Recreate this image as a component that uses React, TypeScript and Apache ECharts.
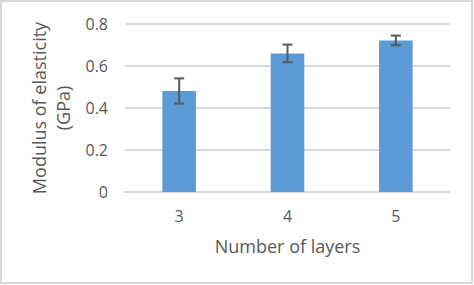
import React, { useEffect, useRef } from "react";
import * as echarts from "echarts";

const categories = ["3", "4", "5"];
const values = [0.481, 0.66, 0.722];
const errors = [0.06, 0.042, 0.023];
const yTicks = [0, 0.2, 0.4, 0.6, 0.8];

export default function App() {
  const ref = useRef<HTMLDivElement>(null);
  useEffect(() => {
    const chart = echarts.init(ref.current!, null, { renderer: "svg" });
    const font = "'Open Sans', sans-serif";
    chart.setOption({
      animation: false,
      backgroundColor: "#ffffff",
      grid: { left: 125, right: 24, top: 24, bottom: 93 },
      xAxis: {
        type: "category",
        data: categories,
        name: "Number of layers",
        nameLocation: "middle",
        nameGap: 45,
        nameTextStyle: { color: "#595959", fontSize: 18, fontFamily: font },
        axisLine: { lineStyle: { color: "#d9d9d9", width: 2 } },
        axisTick: { show: false },
        axisLabel: { color: "#595959", fontSize: 16, fontFamily: font, margin: 16 },
      },
      yAxis: {
        type: "value",
        min: 0,
        max: 0.8,
        interval: 0.2,
        name: "Modulus of elasticity\n(GPa)",
        nameLocation: "middle",
        nameRotate: 90,
        nameGap: 45,
        nameTextStyle: { color: "#595959", fontSize: 18, fontFamily: font, lineHeight: 24 },
        axisLine: { show: false },
        axisTick: { show: false },
        splitLine: { lineStyle: { color: "#d9d9d9", width: 2 } },
        axisLabel: {
          color: "#595959",
          fontSize: 16,
          fontFamily: font,
          margin: 17,
          formatter: (v: number) => (yTicks.includes(Math.round(v * 10) / 10) ? String(Math.round(v * 10) / 10) : ""),
        },
      },
      series: [
        {
          type: "bar",
          data: values,
          barWidth: "31%",
          itemStyle: { color: "#5b9bd5" },
        },
        {
          type: "custom",
          data: values.map((v, i) => [i, v - errors[i], v + errors[i]]),
          renderItem: (params: any, api: any) => {
            const x = api.value(0);
            const lo = api.coord([x, api.value(1)]);
            const hi = api.coord([x, api.value(2)]);
            const hw = 5;
            const style = { stroke: "#595959", lineWidth: 2 };
            return {
              type: "group",
              children: [
                { type: "line", shape: { x1: lo[0], y1: lo[1], x2: hi[0], y2: hi[1] }, style },
                { type: "line", shape: { x1: lo[0] - hw, y1: lo[1], x2: lo[0] + hw, y2: lo[1] }, style },
                { type: "line", shape: { x1: hi[0] - hw, y1: hi[1], x2: hi[0] + hw, y2: hi[1] }, style },
              ],
            };
          },
          z: 10,
        },
      ],
      graphic: [
        {
          type: "rect",
          shape: { x: 1, y: 1, width: 471, height: 282 },
          style: { fill: "none", stroke: "#d9d9d9", lineWidth: 2 },
          z: 100,
        },
      ],
    });
    return () => chart.dispose();
  }, []);
  return (
    <div
      ref={ref}
      style={{ position: "absolute", left: 0, top: 0, width: 474, height: 285 }}
    />
  );
}
